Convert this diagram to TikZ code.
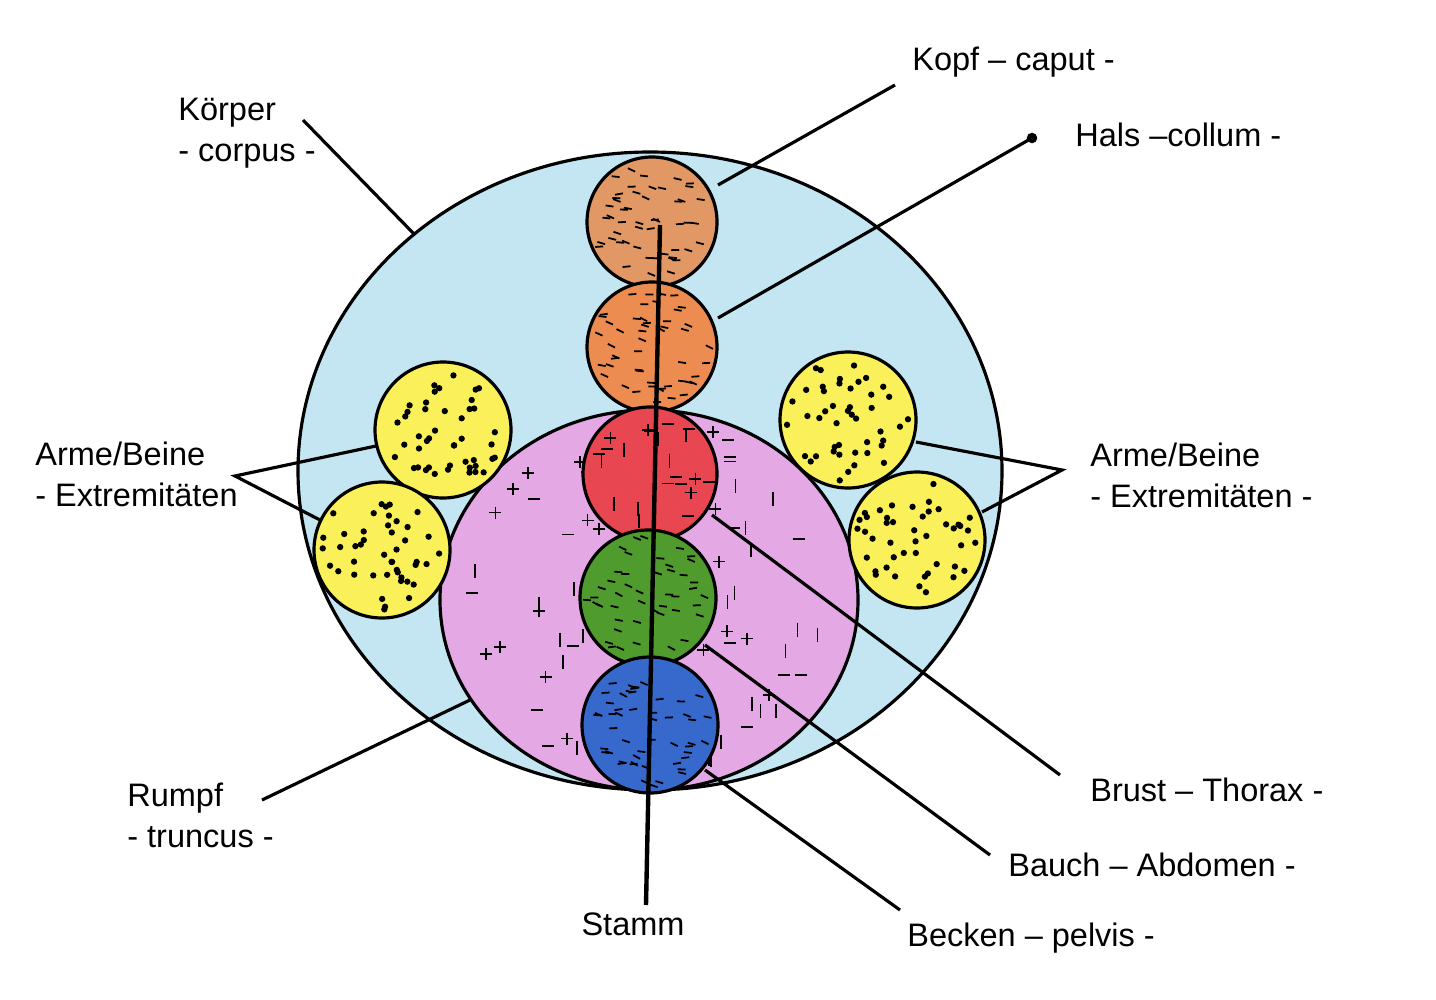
\documentclass[tikz,border=0pt]{standalone}
\usepackage{fontspec}
\setmainfont{Liberation Sans}
\usetikzlibrary{shapes.geometric}
\definecolor{bodyblue}{RGB}{196,230,242}
\definecolor{trunkpink}{RGB}{228,168,228}
\definecolor{heador}{RGB}{226,152,100}
\definecolor{neckor}{RGB}{236,140,80}
\definecolor{chestred}{RGB}{232,70,80}
\definecolor{bellygreen}{RGB}{80,155,45}
\definecolor{pelvisblue}{RGB}{55,105,205}
\definecolor{limbyellow}{RGB}{250,240,90}
\def\u{0.02cm}
\tikzset{
  part/.style={circle,draw=black,line width=1.8pt,inner sep=0pt,minimum size=#1*\u},
  lead/.style={line width=1.8pt},
  lbl/.style={font=\fontsize{18.5}{20}\selectfont,align=left,inner sep=0pt}
}
\newcommand{\tex}[5]{%
  \begin{scope}
  \clip (#1,#2) circle [radius=#3*\u];
  \foreach \i in {1,...,#5}{%
    \pgfmathsetmacro{\aa}{rnd*360}%
    \pgfmathsetmacro{\rr}{sqrt(rnd)*0.9*#3}%
    \pgfmathsetmacro{\px}{#1+\rr*cos(\aa)}%
    \pgfmathsetmacro{\py}{#2+\rr*sin(\aa)}%
    \pgfmathsetmacro{\rot}{-30+rnd*40}%
    \ifcase#4
      \draw[line width=1pt,rotate around={\rot:(\px,\py)}] (\px-4,\py) -- (\px+4,\py);
    \or
      \fill (\px,\py) circle [radius=1.8pt];
    \or
      \pgfmathtruncatemacro{\k}{rnd*3}%
      \ifcase\k
        \draw[line width=1pt] (\px-6,\py) -- (\px+6,\py) (\px,\py-6) -- (\px,\py+6);
      \or
        \draw[line width=1pt] (\px-6,\py) -- (\px+6,\py);
      \else
        \draw[line width=1pt] (\px,\py-7) -- (\px,\py+7);
      \fi
    \fi
  }
  \end{scope}}
\begin{document}
\begin{tikzpicture}[x=\u,y=-\u]
\pgfmathsetseed{7}
\useasboundingbox (0,0) rectangle (1436,1000);
\fill[white] (0,0) rectangle (1436,1000);
\node[ellipse,draw,line width=1.8pt,fill=bodyblue,minimum width=704*\u,minimum height=638*\u,inner sep=0pt] (body) at (650,471) {};
\node[ellipse,draw,line width=1.8pt,fill=trunkpink,minimum width=418*\u,minimum height=380*\u,inner sep=0pt] (trunk) at (649,600) {};
\tex{649}{600}{200}{2}{90}
\foreach \n/\x/\y in {lu/443/430,ll/382/550,ru/848/420,rl/917/540}{
  \node[part=136,fill=limbyellow] (\n) at (\x,\y) {};
  \tex{\x}{\y}{68}{1}{45}
}
\node[part=130,fill=heador] (head) at (652,222) {}; \tex{652}{222}{65}{0}{50}
\node[part=130,fill=neckor] (neck) at (652,347) {}; \tex{652}{347}{65}{0}{50}
\node[part=134,fill=chestred] (chest) at (650,474) {}; \tex{650}{474}{67}{2}{22}
\node[part=136,fill=bellygreen] (belly) at (648,598) {}; \tex{648}{598}{68}{0}{45}
\node[part=136,fill=pelvisblue] (pelvis) at (650,725) {}; \tex{650}{725}{68}{0}{50}
\coordinate (stemtop) at (660,225);
\node[lbl,anchor=north] (stamm) at (633,912) {Stamm};
\coordinate (stembot) at (646,905);
\draw[lead,line width=2.5pt] (stemtop) -- (stembot);
\node[lbl,anchor=west] (kopf) at (912,62) {Kopf – caput -};
\node[lbl,anchor=west] (hals) at (1075,135) {Hals –collum -};
\node[lbl,anchor=north west] (koerper) at (178,98) {Körper\\[3pt]- corpus -};
\node[lbl,anchor=north west] (al) at (35,442) {Arme/Beine\\[3pt]- Extremitäten};
\node[lbl,anchor=north west] (ar) at (1090,443) {Arme/Beine\\[3pt]- Extremitäten -};
\node[lbl,anchor=north west] (rumpf) at (127,783) {Rumpf\\[3pt]- truncus -};
\node[lbl,anchor=west] (brust) at (1090,790) {Brust – Thorax -};
\node[lbl,anchor=west] (bauch) at (1008,865) {Bauch – Abdomen -};
\node[lbl,anchor=west] (becken) at (907,938) {Becken – pelvis -};
\coordinate (k1) at (895,85); \coordinate (k2) at (718,185);
\coordinate (h1) at (1032,138); \coordinate (h2) at (718,318);
\coordinate (c1) at (303,120); \coordinate (c2) at (415,235);
\coordinate (al0) at (235,476); \coordinate (al1) at (376,446); \coordinate (al2) at (320,520);
\coordinate (ar0) at (1062,470); \coordinate (ar1) at (916,442); \coordinate (ar2) at (982,512);
\coordinate (r1) at (262,800); \coordinate (r2) at (470,700);
\coordinate (b1) at (1060,775); \coordinate (b2) at (712,515);
\coordinate (a1) at (990,855); \coordinate (a2) at (705,645);
\coordinate (p1) at (900,910); \coordinate (p2) at (705,770);
\draw[lead] (k1) -- (k2);
\draw[lead] (h1) -- (h2); \fill (h1) circle [radius=3pt];
\draw[lead] (c1) -- (c2);
\draw[lead] (al1) -- (al0) -- (al2);
\draw[lead] (ar1) -- (ar0) -- (ar2);
\draw[lead] (r1) -- (r2);
\draw[lead] (b1) -- (b2);
\draw[lead] (a1) -- (a2);
\draw[lead] (p1) -- (p2);
\end{tikzpicture}
\end{document}
